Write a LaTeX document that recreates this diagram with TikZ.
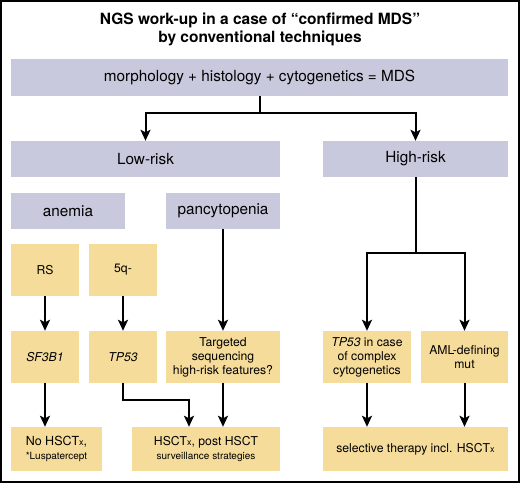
\documentclass[tikz,border=0pt]{standalone}
\usepackage{fontspec}
\setmainfont{TeX Gyre Heros}
\usetikzlibrary{arrows.meta}
\definecolor{lavgray}{HTML}{C8C9DC}
\definecolor{sand}{HTML}{F5DC9B}
\tikzstyle{riskbox} = [rectangle, minimum height=36pt, inner sep=0pt, text centered, fill=lavgray, font=\fontsize{15.3}{17}\selectfont]
\tikzstyle{findbox} = [rectangle, minimum height=52pt, inner sep=0pt, text centered, align=center, fill=sand, font=\fontsize{12.2}{14}\selectfont]
\tikzstyle{line} = [line width=2pt]
\tikzstyle{arrow} = [line width=2pt, -{Stealth[length=11pt,width=10pt,inset=2.5pt]}]
\newcommand{\hsctx}{HSCT{\fontsize{9}{9}\selectfont x}}

\begin{document}
\begin{tikzpicture}[x=1pt, y=-1pt] % pixel grid, y runs down
    \useasboundingbox (0,0) rectangle (520,483);
    \draw [line width=2pt] (1,1) rectangle (519,482);

    \node (title) [align=center, font=\bfseries\fontsize{15.5}{18}\selectfont] at (260,29) {NGS work-up in a case of “confirmed MDS”\\by conventional techniques};
    \node (mds) [riskbox, minimum width=497pt, minimum height=37pt] at (259.5,77.5) {morphology + histology + cytogenetics = MDS};

    \node (low) [riskbox, minimum width=269pt] at (145.5,159) {Low-risk};
    \node (high) [riskbox, minimum width=185pt] at (415.5,159) {High-risk};
    \node (anemia) [riskbox, minimum width=114pt] at (68,211) {anemia};
    \node (pancy) [riskbox, minimum width=114pt] at (223,211) {pancytopenia};

    \node (rs) [findbox, minimum width=68pt] at (45,270) {RS};
    \node (fiveq) [findbox, minimum width=68pt] at (123,270) {5q-};

    \node (sf3b1) [findbox, minimum width=68pt] at (45,357) {\textit{SF3B1}};
    \node (tpfz) [findbox, minimum width=68pt] at (123,357) {\textit{TP53}};
    \node (targeted) [findbox, minimum width=114pt] at (223,357) {Targeted\\sequencing\\high-risk features?};
    \node (tpcx) [findbox, minimum width=88pt] at (367,357) {\textit{TP53} in case\\of complex\\cytogenetics};
    \node (aml) [findbox, minimum width=87pt] at (464.5,357) {AML-defining\\mut};

    \node (nohsct) [findbox, minimum width=91pt, minimum height=44pt] at (56.5,449) {{\fontsize{12.5}{14}\selectfont No \hsctx,}\\{\fontsize{10}{12}\selectfont *Luspatercept}};
    \node (hsct) [findbox, minimum width=148pt, minimum height=44pt] at (206,449) {\hsctx, post HSCT\\{\fontsize{10}{12}\selectfont surveillance strategies}};
    \node (selective) [findbox, minimum width=185pt, minimum height=44pt] at (415.5,449) {selective therapy incl. \hsctx};

    % Flechas
    \coordinate (split) at (259.5,113);
    \draw [line] (mds) -- (split);
    \draw [arrow] (split) -| (low);
    \draw [arrow] (split) -| (high);

    \coordinate (hsplit) at (415.5,253);
    \draw [line] (high) -- (hsplit);
    \draw [arrow] (hsplit) -| (tpcx);
    \draw [arrow] (hsplit) -| (aml);

    \draw [arrow] (pancy) -- (targeted);
    \draw [arrow] (rs) -- (sf3b1);
    \draw [arrow] (fiveq) -- (tpfz);

    \draw [arrow] (sf3b1) -- (sf3b1 |- nohsct.north);
    \draw [arrow] (tpfz.south) -- ++(0,17) -| ([xshift=-17pt]hsct.north);
    \draw [arrow] (targeted) -- (targeted |- hsct.north);
    \draw [arrow] (tpcx) -- (tpcx |- selective.north);
    \draw [arrow] (aml) -- (aml |- selective.north);
\end{tikzpicture}
\end{document}
